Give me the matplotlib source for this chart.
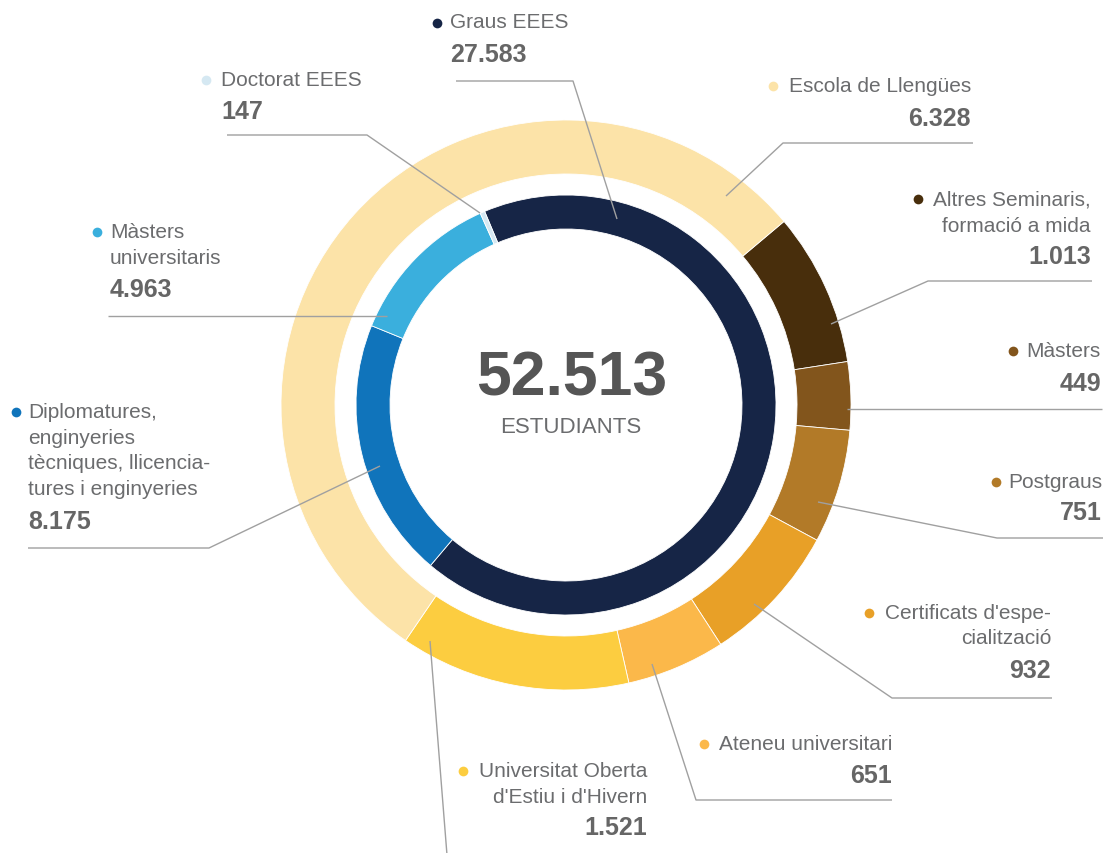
import numpy as np
import matplotlib
matplotlib.use('Agg')
import matplotlib.pyplot as plt

plt.rcParams['font.family'] = ['Liberation Sans', 'DejaVu Sans']

# inner ring (university degrees), clockwise starting at Graus
inner_labels = ['Graus EEES', 'Diplomatures', 'Màsters universitaris', 'Doctorat EEES']
inner_values = [27583, 8175, 4963, 147]
inner_colors = ['#162546', '#1074bb', '#3aafdd', '#d5e8f2']

# outer ring (other studies), clockwise starting at Altres Seminaris
outer_labels = ['Altres Seminaris', 'Màsters', 'Postgraus', "Certificats d'especialització",
                'Ateneu universitari', "Universitat Oberta d'Estiu i d'Hivern", 'Escola de Llengües']
outer_values = [1013, 449, 751, 932, 651, 1521, 6328]
outer_colors = ['#482e0c', '#82551c', '#b27a28', '#e8a027', '#fbb84a', '#fccd40', '#fce3a8']

W, H = 1106, 854
cx, cy = 566, 406

def Y(y):
    return H - y

def fmt(v):
    return '{:,}'.format(v).replace(',', '.')

fig = plt.figure(figsize=[W/100., H/100.], dpi=100)
ax = fig.add_axes([0, 0, 1, 1])

ax.pie(outer_values, radius=285, center=(cx, Y(cy)), colors=outer_colors,
       startangle=40.1, counterclock=False,
       wedgeprops=dict(width=54, edgecolor='white', linewidth=0.6))
ax.pie(inner_values, radius=210, center=(cx, Y(cy)), colors=inner_colors,
       startangle=112.8, counterclock=False,
       wedgeprops=dict(width=34, edgecolor='white', linewidth=0.6))

ax.set_xlim(0, W)
ax.set_ylim(0, H)
ax.set_aspect('equal')
ax.axis('off')

total = sum(inner_values) + sum(outer_values)
ax.text(572, Y(379), fmt(total), ha='center', va='center', fontsize=45,
        fontweight='bold', color='#555555')
ax.text(571, Y(428), 'ESTUDIANTS', ha='center', va='center', fontsize=16, color='#6b6c6e')

txtcol = '#6b6c6e'
valcol = '#666666'
linecol = '#a0a0a0'

# label layout: name -> (text x, align, dot xy, lines, line ys, value y, leader pts)
layout = [
    ('Graus EEES', 450, 'left', (437, 24), ['Graus EEES'], [22], 55,
     [(456, 82), (573, 82), (617, 220)]),
    ('Doctorat EEES', 221, 'left', (206, 81), ['Doctorat EEES'], [80], 112,
     [(227, 136), (367, 136), (480, 214)]),
    ('Màsters universitaris', 110, 'left', (97, 233), ['Màsters', 'universitaris'], [233, 258], 290,
     [(108, 317), (387, 317)]),
    ('Diplomatures', 28, 'left', (16, 413),
     ['Diplomatures,', 'enginyeries', 'tècniques, llicencia-', 'tures i enginyeries'],
     [413, 439, 464, 490], 522, [(28, 549), (209, 549), (380, 467)]),
    ('Escola de Llengües', 971, 'right', (773, 87), ['Escola de Llengües'], [87], 119,
     [(973, 144), (783, 144), (726, 197)]),
    ('Altres Seminaris', 1091, 'right', (918, 200), ['Altres Seminaris,', 'formació a mida'],
     [200, 227], 257, [(1092, 282), (928, 282), (831, 325)]),
    ('Màsters', 1101, 'right', (1013, 352), ['Màsters'], [352], 384,
     [(1102, 410), (847, 410)]),
    ('Postgraus', 1102, 'right', (996, 483), ['Postgraus'], [483], 513,
     [(1103, 539), (997, 539), (818, 503)]),
    ("Certificats d'especialització", 1051, 'right', (869, 614),
     ["Certificats d'espe-", 'cialització'], [614, 639], 671,
     [(1052, 699), (892, 699), (754, 605)]),
    ('Ateneu universitari', 892, 'right', (704, 745), ['Ateneu universitari'], [745], 776,
     [(892, 801), (696, 801), (652, 665)]),
    ("Universitat Oberta d'Estiu i d'Hivern", 647, 'right', (463, 772),
     ['Universitat Oberta', "d'Estiu i d'Hivern"], [772, 798], 828,
     [(430, 642), (447, 856)]),
]

values = dict(zip(inner_labels, inner_values))
values.update(zip(outer_labels, outer_values))
colors = dict(zip(inner_labels, inner_colors))
colors.update(zip(outer_labels, outer_colors))

for name, tx, al, dot, lines, ys, vy, leader in layout:
    ax.plot(dot[0], Y(dot[1]), 'o', color=colors[name], markersize=7, markeredgewidth=0)
    for ln, ly in zip(lines, ys):
        ax.text(tx, Y(ly), ln, ha=al, va='center', fontsize=15, color=txtcol)
    ax.text(tx, Y(vy), fmt(values[name]), ha=al, va='center', fontsize=18,
            fontweight='bold', color=valcol)
    lx = [p[0] for p in leader]
    ly = [Y(p[1]) for p in leader]
    ax.plot(lx, ly, color=linecol, linewidth=1.0, solid_capstyle='butt')

plt.savefig('out.png', dpi=100)
plt.close()
